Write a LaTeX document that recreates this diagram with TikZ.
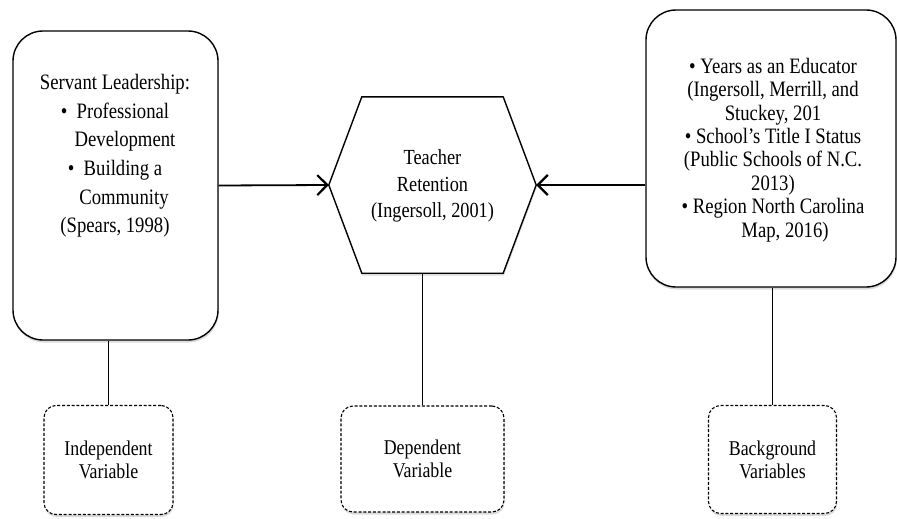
\documentclass[tikz,border=0pt]{standalone}
\usepackage{fontspec}
\setmainfont[FakeStretch=0.85]{Liberation Serif}
\usetikzlibrary{arrows.meta,calc,positioning,shadows}

\tikzset{
  softshadow/.style={drop shadow={shadow xshift=0.6pt,shadow yshift=-2.5pt,opacity=0.28}},
  bigbox/.style={draw,line width=1.4pt,rounded corners=30pt,fill=white,softshadow},
  varbox/.style={draw,line width=1.1pt,dash pattern=on 3pt off 1.8pt,
                 rounded corners=12pt,fill=white,softshadow,align=center,
                 font=\fontsize{21}{23}\selectfont},
  boxtext/.style={align=center,inner sep=0pt},
  link/.style={line width=1.4pt},
  towards/.style={line width=1.8pt,-{Straight Barb[length=10pt,width=20pt,line width=2.2pt]}},
}

\begin{document}
\begin{tikzpicture}[x=1pt,y=-1pt]
%
  \useasboundingbox[fill=white] (0,0) rectangle (897,519);
%
  % the three main boxes
  \node[bigbox,minimum width=205pt,minimum height=309pt] (lbox) at (115.5,185.5) {};
  \node[bigbox,minimum width=250pt,minimum height=277pt] (rbox) at (771,148.5) {};
  \node[minimum width=207pt,minimum height=176pt,inner sep=0pt] (ret) at (432.5,185) {};
  \draw[line width=1.4pt,fill=white,softshadow]
    (ret.west) -- ($(ret.north west)+(33,0)$) -- ($(ret.north east)+(-33,0)$)
    -- (ret.east) -- ($(ret.south east)+(-33,0)$) -- ($(ret.south west)+(33,0)$)
    -- cycle;
%
  \node[boxtext,font=\fontsize{22}{28.6}\selectfont] (ltxt) at (115,156)
    {Servant Leadership:\\
     \textbullet\ \ Professional\\
     \hspace*{20pt}Development\\
     \textbullet\ \ Building a\\
     \hspace*{18pt}Community\\
     (Spears, 1998)};
  \node[boxtext,font=\fontsize{21.5}{26.5}\selectfont] (rtxt) at (432.5,186)
    {Teacher\\ Retention\\ (Ingersoll, 2001)};
  \node[boxtext,font=\fontsize{22}{23.4}\selectfont] (btxt) at (773,150)
    {\textbullet\ Years as an Educator\\
     (Ingersoll, Merrill, and\\
     Stuckey, 201\hspace*{12pt}\\
     \textbullet\ School's Title I Status\\
     (Public Schools of N.C.\\
     2013)\\
     \textbullet\ Region North Carolina\\
     \hspace*{24pt}Map, 2016)};
%
  % the dashed labels below
  \node[varbox,minimum width=129pt,minimum height=109pt] (ivar) at (108.5,460) {Independent\\ Variable};
  \node[varbox,minimum width=163pt,minimum height=106pt] (dvar) at (422.5,459) {Dependent\\ Variable};
  \node[varbox,minimum width=128pt,minimum height=108pt] (bvar) at (772.5,459.5) {Background\\ Variables};
%
  \draw[towards] (lbox.east) -- (ret.west);
  \draw[towards] (rbox.west |- ret.east) -- (ret.east);
  \draw[link] (ivar.north) -- (ivar.north |- lbox.south);
  \draw[link] (dvar.north) -- (dvar.north |- ret.south);
  \draw[link] (bvar.north) -- (bvar.north |- rbox.south);
\end{tikzpicture}
\end{document}
